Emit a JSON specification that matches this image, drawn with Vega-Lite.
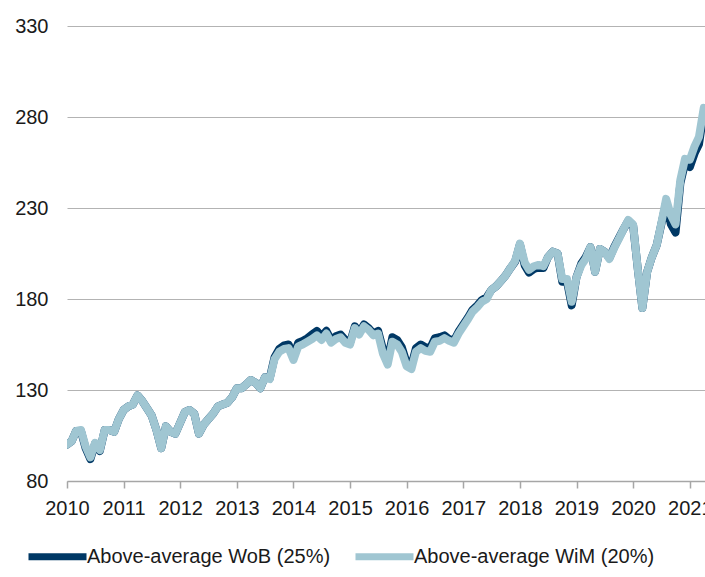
{
  "$schema": "https://vega.github.io/schema/vega-lite/v6.json",
  "autosize": "none",
  "width": 638,
  "height": 455,
  "padding": {"left": 67, "top": 26, "right": 0, "bottom": 96},
  "background": "white",
  "config": {
    "font": "Liberation Sans",
    "view": {"stroke": null},
    "axis": {"labelFont": "Liberation Sans", "labelFontSize": 20, "labelColor": "#1a1a1a"}
  },
  "data": {
    "values": [
      {"date": "2010-01-01", "WoB": 100, "WiM": 100},
      {"date": "2010-02-01", "WoB": 102, "WiM": 102},
      {"date": "2010-03-01", "WoB": 107.5, "WiM": 107.5},
      {"date": "2010-04-01", "WoB": 107.5, "WiM": 108},
      {"date": "2010-05-01", "WoB": 98, "WiM": 99},
      {"date": "2010-06-01", "WoB": 92, "WiM": 93},
      {"date": "2010-07-01", "WoB": 100.5, "WiM": 101},
      {"date": "2010-08-01", "WoB": 96.5, "WiM": 97},
      {"date": "2010-09-01", "WoB": 108, "WiM": 108},
      {"date": "2010-10-01", "WoB": 108, "WiM": 108},
      {"date": "2010-11-01", "WoB": 107, "WiM": 107},
      {"date": "2010-12-01", "WoB": 114, "WiM": 114},
      {"date": "2011-01-01", "WoB": 119, "WiM": 119},
      {"date": "2011-02-01", "WoB": 121, "WiM": 121},
      {"date": "2011-03-01", "WoB": 122, "WiM": 122},
      {"date": "2011-04-01", "WoB": 127, "WiM": 127},
      {"date": "2011-05-01", "WoB": 124, "WiM": 124},
      {"date": "2011-06-01", "WoB": 120, "WiM": 120},
      {"date": "2011-07-01", "WoB": 116, "WiM": 116},
      {"date": "2011-08-01", "WoB": 108, "WiM": 108},
      {"date": "2011-09-01", "WoB": 98, "WiM": 98},
      {"date": "2011-10-01", "WoB": 110, "WiM": 110},
      {"date": "2011-11-01", "WoB": 107, "WiM": 107},
      {"date": "2011-12-01", "WoB": 106, "WiM": 106},
      {"date": "2012-01-01", "WoB": 112, "WiM": 112},
      {"date": "2012-02-01", "WoB": 118, "WiM": 118},
      {"date": "2012-03-01", "WoB": 119, "WiM": 119},
      {"date": "2012-04-01", "WoB": 117, "WiM": 117},
      {"date": "2012-05-01", "WoB": 106, "WiM": 106},
      {"date": "2012-06-01", "WoB": 111, "WiM": 111},
      {"date": "2012-07-01", "WoB": 114, "WiM": 114},
      {"date": "2012-08-01", "WoB": 117, "WiM": 117},
      {"date": "2012-09-01", "WoB": 121, "WiM": 121},
      {"date": "2012-10-01", "WoB": 122, "WiM": 122},
      {"date": "2012-11-01", "WoB": 123, "WiM": 123},
      {"date": "2012-12-01", "WoB": 126, "WiM": 126},
      {"date": "2013-01-01", "WoB": 131, "WiM": 131},
      {"date": "2013-02-01", "WoB": 131, "WiM": 131},
      {"date": "2013-03-01", "WoB": 133, "WiM": 133},
      {"date": "2013-04-01", "WoB": 135.5, "WiM": 135.5},
      {"date": "2013-05-01", "WoB": 134, "WiM": 134},
      {"date": "2013-06-01", "WoB": 131, "WiM": 131},
      {"date": "2013-07-01", "WoB": 137, "WiM": 137},
      {"date": "2013-08-01", "WoB": 136.5, "WiM": 136},
      {"date": "2013-09-01", "WoB": 148, "WiM": 147},
      {"date": "2013-10-01", "WoB": 152.5, "WiM": 151},
      {"date": "2013-11-01", "WoB": 154.5, "WiM": 152.5},
      {"date": "2013-12-01", "WoB": 155, "WiM": 153},
      {"date": "2014-01-01", "WoB": 148.5, "WiM": 146.5},
      {"date": "2014-02-01", "WoB": 156, "WiM": 154},
      {"date": "2014-03-01", "WoB": 157, "WiM": 155},
      {"date": "2014-04-01", "WoB": 158.5, "WiM": 156.5},
      {"date": "2014-05-01", "WoB": 160.5, "WiM": 158},
      {"date": "2014-06-01", "WoB": 162.5, "WiM": 160},
      {"date": "2014-07-01", "WoB": 159.5, "WiM": 157.5},
      {"date": "2014-08-01", "WoB": 162.5, "WiM": 161},
      {"date": "2014-09-01", "WoB": 157.5, "WiM": 156},
      {"date": "2014-10-01", "WoB": 159.5, "WiM": 158},
      {"date": "2014-11-01", "WoB": 160.5, "WiM": 159},
      {"date": "2014-12-01", "WoB": 157.5, "WiM": 156},
      {"date": "2015-01-01", "WoB": 156, "WiM": 155},
      {"date": "2015-02-01", "WoB": 165, "WiM": 164},
      {"date": "2015-03-01", "WoB": 161.5, "WiM": 160.5},
      {"date": "2015-04-01", "WoB": 166, "WiM": 165},
      {"date": "2015-05-01", "WoB": 164, "WiM": 163},
      {"date": "2015-06-01", "WoB": 161, "WiM": 160},
      {"date": "2015-07-01", "WoB": 162.5, "WiM": 161},
      {"date": "2015-08-01", "WoB": 152.5, "WiM": 150},
      {"date": "2015-09-01", "WoB": 146.5, "WiM": 144},
      {"date": "2015-10-01", "WoB": 159, "WiM": 156.5},
      {"date": "2015-11-01", "WoB": 157.5, "WiM": 155},
      {"date": "2015-12-01", "WoB": 153.5, "WiM": 151},
      {"date": "2016-01-01", "WoB": 145, "WiM": 143},
      {"date": "2016-02-01", "WoB": 143.5, "WiM": 141.5},
      {"date": "2016-03-01", "WoB": 153, "WiM": 151},
      {"date": "2016-04-01", "WoB": 155, "WiM": 153},
      {"date": "2016-05-01", "WoB": 153.5, "WiM": 151.5},
      {"date": "2016-06-01", "WoB": 153, "WiM": 151},
      {"date": "2016-07-01", "WoB": 158.5, "WiM": 156.5},
      {"date": "2016-08-01", "WoB": 159, "WiM": 157},
      {"date": "2016-09-01", "WoB": 160, "WiM": 158.5},
      {"date": "2016-10-01", "WoB": 158, "WiM": 157},
      {"date": "2016-11-01", "WoB": 157, "WiM": 156},
      {"date": "2016-12-01", "WoB": 162, "WiM": 161},
      {"date": "2017-01-01", "WoB": 166, "WiM": 165},
      {"date": "2017-02-01", "WoB": 170, "WiM": 169},
      {"date": "2017-03-01", "WoB": 174, "WiM": 173},
      {"date": "2017-04-01", "WoB": 176.5, "WiM": 175.5},
      {"date": "2017-05-01", "WoB": 179.5, "WiM": 178.5},
      {"date": "2017-06-01", "WoB": 181, "WiM": 180},
      {"date": "2017-07-01", "WoB": 185, "WiM": 185},
      {"date": "2017-08-01", "WoB": 187, "WiM": 187},
      {"date": "2017-09-01", "WoB": 190, "WiM": 190},
      {"date": "2017-10-01", "WoB": 193, "WiM": 193},
      {"date": "2017-11-01", "WoB": 197, "WiM": 197},
      {"date": "2017-12-01", "WoB": 200.5, "WiM": 201},
      {"date": "2018-01-01", "WoB": 210, "WiM": 210.5},
      {"date": "2018-02-01", "WoB": 198.5, "WiM": 200},
      {"date": "2018-03-01", "WoB": 194.5, "WiM": 196},
      {"date": "2018-04-01", "WoB": 196.5, "WiM": 198},
      {"date": "2018-05-01", "WoB": 197.2, "WiM": 198.7},
      {"date": "2018-06-01", "WoB": 197, "WiM": 198},
      {"date": "2018-07-01", "WoB": 203, "WiM": 203},
      {"date": "2018-08-01", "WoB": 206, "WiM": 206},
      {"date": "2018-09-01", "WoB": 205, "WiM": 205},
      {"date": "2018-10-01", "WoB": 189.5, "WiM": 191},
      {"date": "2018-11-01", "WoB": 189.5, "WiM": 191},
      {"date": "2018-12-01", "WoB": 176.5, "WiM": 178.5},
      {"date": "2019-01-01", "WoB": 192, "WiM": 192},
      {"date": "2019-02-01", "WoB": 199.5, "WiM": 198.5},
      {"date": "2019-03-01", "WoB": 203, "WiM": 202},
      {"date": "2019-04-01", "WoB": 208.5, "WiM": 208.5},
      {"date": "2019-05-01", "WoB": 195, "WiM": 195},
      {"date": "2019-06-01", "WoB": 207.5, "WiM": 207.5},
      {"date": "2019-07-01", "WoB": 206, "WiM": 206},
      {"date": "2019-08-01", "WoB": 202.5, "WiM": 202},
      {"date": "2019-09-01", "WoB": 208.5, "WiM": 208},
      {"date": "2019-10-01", "WoB": 213.5, "WiM": 213},
      {"date": "2019-11-01", "WoB": 218.5, "WiM": 218.5},
      {"date": "2019-12-01", "WoB": 223, "WiM": 223.4},
      {"date": "2020-01-01", "WoB": 220.5, "WiM": 221},
      {"date": "2020-02-01", "WoB": 196, "WiM": 196},
      {"date": "2020-03-01", "WoB": 175, "WiM": 175},
      {"date": "2020-04-01", "WoB": 195, "WiM": 195},
      {"date": "2020-05-01", "WoB": 203, "WiM": 203},
      {"date": "2020-06-01", "WoB": 209.5, "WiM": 209.5},
      {"date": "2020-07-01", "WoB": 221, "WiM": 221.6},
      {"date": "2020-08-01", "WoB": 233, "WiM": 235},
      {"date": "2020-09-01", "WoB": 221, "WiM": 226},
      {"date": "2020-10-01", "WoB": 216.5, "WiM": 221},
      {"date": "2020-11-01", "WoB": 243.5, "WiM": 245.5},
      {"date": "2020-12-01", "WoB": 254.5, "WiM": 257},
      {"date": "2021-01-01", "WoB": 252.5, "WiM": 256.5},
      {"date": "2021-02-01", "WoB": 260, "WiM": 264},
      {"date": "2021-03-01", "WoB": 265, "WiM": 269},
      {"date": "2021-04-01", "WoB": 282.5, "WiM": 285}
    ]
  },
  "transform": [{"fold": ["WoB", "WiM"], "as": ["series", "value"]}],
  "mark": {"type": "line", "strokeWidth": 8, "strokeJoin": "round", "strokeCap": "round", "clip": true},
  "encoding": {
    "x": {
      "field": "date",
      "type": "temporal",
      "scale": {"type": "utc", "domain": ["2010-01-01", "2021-04-09"]},
      "axis": {
        "title": null,
        "format": "%Y",
        "tickCount": {"interval": "year", "step": 1},
        "grid": false,
        "domainColor": "#a6a6a6",
        "domainWidth": 1.5,
        "tickColor": "#a6a6a6",
        "tickWidth": 1.5,
        "tickSize": 7,
        "labelPadding": 10,
        "labelFlush": false,
        "labelOverlap": false
      }
    },
    "y": {
      "field": "value",
      "type": "quantitative",
      "scale": {"domain": [80, 330], "nice": false, "zero": false},
      "axis": {
        "title": null,
        "values": [80, 130, 180, 230, 280, 330],
        "domain": false,
        "ticks": false,
        "tickSize": 0,
        "labelPadding": 19,
        "gridColor": "#b3b3b3",
        "gridWidth": 1.2
      }
    },
    "color": {
      "field": "series",
      "type": "nominal",
      "scale": {"domain": ["WoB", "WiM"], "range": ["#003865", "#a0c6d2"]},
      "legend": {
        "title": null,
        "orient": "none",
        "legendX": -42,
        "legendY": 498,
        "direction": "horizontal",
        "symbolType": "stroke",
        "symbolSize": 3364,
        "symbolStrokeWidth": 7,
        "labelFontSize": 20,
        "labelFont": "Liberation Sans",
        "labelColor": "#1a1a1a",
        "labelOffset": -3,
        "columnPadding": 10,
        "labelLimit": 400,
        "labelExpr": "datum.label == 'WoB' ? 'Above-average WoB (25%)' : 'Above-average WiM (20%)'"
      }
    }
  }
}
